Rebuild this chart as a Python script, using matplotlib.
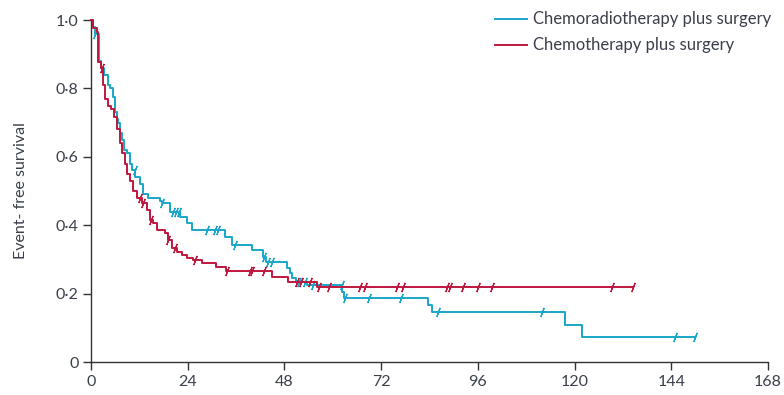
import numpy as np
import matplotlib
matplotlib.use('Agg')
import matplotlib.pyplot as plt

plt.rcParams['font.family'] = ['Lato', 'DejaVu Sans']

# step curves (months, event-free survival)
blue_t = [0, 0.5, 1.0, 2.0, 2.6, 3.3, 4.2, 4.8, 5.5, 5.9, 6.4, 6.8, 7.3, 7.7, 8.2, 8.9,
          9.6, 10.2, 11.0, 12.2, 12.8, 14.2, 17.0, 17.6, 19.6, 22.0, 23.8, 25.0, 33.3,
          35.0, 40.0, 42.7, 43.5, 48.6, 49.4, 50.0, 50.8, 53.5, 62.3, 62.8, 83.6, 84.6,
          117.6, 121.8, 150.0]
blue_s = [1.0, 0.98, 0.96, 0.88, 0.86, 0.84, 0.81, 0.80, 0.775, 0.73, 0.71, 0.70, 0.67, 0.65,
          0.62, 0.61, 0.58, 0.56, 0.54, 0.52, 0.49, 0.48, 0.47, 0.465, 0.44, 0.425, 0.405,
          0.386, 0.366, 0.342, 0.327, 0.308, 0.293, 0.275, 0.26, 0.245, 0.234, 0.225, 0.205,
          0.187, 0.167, 0.146, 0.108, 0.073, 0.073]

red_t = [0, 0.6, 1.4, 1.8, 2.5, 3.0, 3.5, 4.1, 5.0, 5.7, 6.4, 7.2, 7.8, 8.4, 9.0, 9.7, 10.5,
         11.3, 12.6, 13.9, 14.6, 15.5, 16.3, 18.4, 19.0, 20.0, 21.3, 22.5, 23.7, 25.3, 27.5,
         31.0, 33.4, 45.0, 48.8, 56.0, 134.5]
red_s = [1.0, 0.977, 0.966, 0.878, 0.86, 0.81, 0.77, 0.75, 0.74, 0.717, 0.68, 0.64, 0.61, 0.58,
         0.55, 0.53, 0.50, 0.48, 0.465, 0.445, 0.415, 0.405, 0.386, 0.377, 0.357, 0.333, 0.322,
         0.313, 0.304, 0.298, 0.29, 0.278, 0.266, 0.248, 0.234, 0.22, 0.22]

# censoring times
blue_c = [1.0, 10.8, 17.6, 20.3, 21.0, 21.8, 28.7, 30.8, 31.5, 35.7, 43.0, 44.0, 45.0, 51.5,
          53.0, 55.0, 62.2, 63.0, 69.0, 77.0, 86.0, 112.0, 145.0, 150.0]
red_c = [2.7, 12.2, 13.0, 15.0, 19.0, 20.8, 25.8, 33.7, 39.5, 40.0, 43.0, 51.0, 52.0, 54.4,
         56.5, 59.0, 66.7, 68.0, 76.0, 77.4, 88.3, 89.0, 92.3, 96.0, 99.5, 129.3, 134.5]

labels = ['Chemoradiotherapy plus surgery', 'Chemotherapy plus surgery']
colors = ['#1aa6c8', '#c0173f']
xticks = [0, 24, 48, 72, 96, 120, 144, 168]
yticks = [0, 0.2, 0.4, 0.6, 0.8, 1.0]
ytick_labels = ['0', '0·2', '0·4', '0·6', '0·8', '1·0']

txt = '#3a3f4a'

fig = plt.figure(figsize=(7.84, 3.95), dpi=100)
ax = fig.add_axes([91/784, 1-362/395, 677/784, 342/395])

def surv_at(t, ts, ss):
    idx = np.searchsorted(ts, t, side='right') - 1
    return np.array(ss)[idx]

for ts, ss, cs, col, lab in [(blue_t, blue_s, blue_c, colors[0], labels[0]),
                             (red_t, red_s, red_c, colors[1], labels[1])]:
    ax.step(ts, ss, where='post', color=col, lw=1.4, label=lab, clip_on=False, zorder=3)
    cs = np.array(cs)
    ax.plot(cs, surv_at(cs, ts, ss), ls='none', marker=(2, 2, -20), ms=7, mew=0.9,
            color=col, clip_on=False, zorder=3)

ax.set_xlim(0, 168)
ax.set_ylim(0, 1.0)
ax.set_xticks(xticks)
ax.set_yticks(yticks)
ax.set_yticklabels(ytick_labels)
ax.tick_params(direction='out', length=6, width=1, color='#333333', labelsize=11.5,
               labelcolor=txt, pad=3)
for s in ['top', 'right']:
    ax.spines[s].set_visible(False)
for s in ['left', 'bottom']:
    ax.spines[s].set_color('#333333')
    ax.spines[s].set_linewidth(1)
ax.set_ylabel('Event- free survival', fontsize=11.5, color=txt)
ax.yaxis.set_label_coords(-0.093, 0.5)

leg = ax.legend(loc='upper left', bbox_to_anchor=(487/784, 0.992), bbox_transform=fig.transFigure,
                frameon=False, fontsize=12, handlelength=1.9, handletextpad=0.35,
                labelspacing=0.6, borderaxespad=0.1)
for t in leg.get_texts():
    t.set_color(txt)

fig.savefig('out.png', dpi=100)
